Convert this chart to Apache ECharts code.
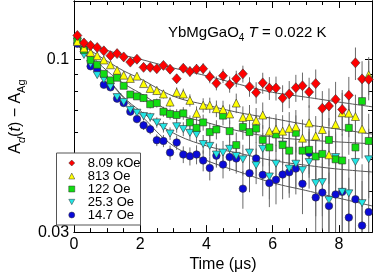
<!DOCTYPE html>
<html><head><meta charset="utf-8">
<script src="https://cdn.jsdelivr.net/npm/echarts@6/dist/echarts.min.js"></script>
<style>html,body{margin:0;padding:0;background:#fff}#c{width:374px;height:278px}</style>
</head><body><div id="c"></div>
<script>
const times = [0.1,0.3,0.5,0.7,0.9,1.1,1.3,1.5,1.7,1.9,2.1,2.3,2.5,2.7,2.9,3.1,3.3,3.5,3.7,3.9,4.1,4.3,4.5,4.7,4.9,5.1,5.3,5.5,5.7,5.9,6.1,6.3,6.5,6.7,6.9,7.1,7.3,7.5,7.7,7.9,8.1,8.3,8.5,8.7,8.9];
const red = [0.118,0.112,0.110,0.1085,0.106,0.1025,0.104,0.1016,0.098,0.100,0.0945,0.0945,0.0936,0.0958,0.0933,0.0873,0.0939,0.0918,0.0933,0.0936,0.0885,0.0846,0.0891,0.0839,0.0873,0.0903,0.0826,0.0793,0.0848,0.0818,0.0818,0.0763,0.0785,0.0820,0.0831,0.0796,0.0844,0.0711,0.0722,0.0756,0.0705,0.0778,0.0975,0.0872,0.0869];
const yellow = [0.1132,0.1082,0.1049,0.1025,0.0995,0.0962,0.0926,0.0895,0.0875,0.0889,0.0844,0.0816,0.0804,0.0785,0.0742,0.0794,0.0785,0.0751,0.0686,0.0726,0.0726,0.0709,0.0705,0.0683,0.0737,0.0667,0.0671,0.0653,0.0678,0.0606,0.0614,0.0606,0.0618,0.0625,0.0577,0.0642,0.0586,0.0613,0.0514,0.0635,0.0689,0.0687,0.0671,0.0615,0.0897];
const green = [0.1140,0.1065,0.0995,0.0962,0.0903,0.0863,0.0879,0.0831,0.0782,0.0772,0.0763,0.0731,0.0737,0.0694,0.0683,0.0678,0.0686,0.0644,0.0620,0.0644,0.0602,0.0613,0.0675,0.0606,0.0550,0.0624,0.0602,0.0617,0.0570,0.0541,0.0592,0.0550,0.0529,0.0599,0.0529,0.0532,0.0508,0.0517,0.0570,0.0498,0.0494,0.0620,0.0541,0.0747,0.0566];
const cyan = [0.1130,0.1030,0.0967,0.0895,0.0869,0.0826,0.0768,0.0742,0.0703,0.0689,0.0673,0.0668,0.0644,0.0624,0.0596,0.0627,0.0615,0.0599,0.0592,0.0554,0.0547,0.0515,0.0522,0.0536,0.0510,0.0498,0.0522,0.0478,0.0536,0.0442,0.0483,0.0552,0.0467,0.0483,0.0462,0.0489,0.0422,0.0425,0.0375,0.0506,0.0397,0.0393,0.0489,0.0367,0.0498];
const blue = [0.1114,0.1072,0.0952,0.0928,0.0837,0.0822,0.0760,0.0737,0.0694,0.0659,0.0631,0.0614,0.0569,0.0566,0.0522,0.0560,0.0515,0.0509,0.0515,0.0494,0.0469,0.0511,0.0480,0.0506,0.0501,0.0406,0.0452,0.0501,0.0447,0.0422,0.0432,0.0448,0.0455,0.0467,0.0420,0.0521,0.0382,0.0395,0.0360,0.0390,0.0397,0.0332,0.0377,0.0314,0.0345];
const errors = [0.0010,0.0011,0.0011,0.0012,0.0013,0.0014,0.0015,0.0016,0.0017,0.0018,0.0020,0.0021,0.0023,0.0024,0.0026,0.0028,0.0030,0.0032,0.0034,0.0036,0.0039,0.0041,0.0044,0.0047,0.0050,0.0053,0.0056,0.0059,0.0062,0.0065,0.0068,0.0071,0.0074,0.0077,0.0080,0.0083,0.0087,0.0090,0.0094,0.0098,0.0102,0.0106,0.0110,0.0114,0.0118];
const fitTimes = [0,0.5,1,1.5,2,3,4,5,6,7,8,9];
const fitRed = [0.1153,0.1099,0.1063,0.1028,0.1000,0.0941,0.0891,0.0839,0.0794,0.0768,0.0742,0.0718];
const fitYellow = [0.1145,0.1063,0.0987,0.0922,0.0873,0.0773,0.0727,0.0689,0.0662,0.0635,0.0614,0.0594];
const fitGreen = [0.1145,0.1028,0.0922,0.0844,0.0789,0.0689,0.0644,0.0606,0.0582,0.0570,0.0562,0.0555];
const fitCyan = [0.1137,0.0993,0.0879,0.0768,0.0698,0.0598,0.0547,0.0519,0.0494,0.0478,0.0465,0.0456];
const fitBlue = [0.1137,0.0993,0.0873,0.0763,0.0680,0.0547,0.0494,0.0456,0.0423,0.0401,0.0380,0.0360];
const seriesNames = ['8.09 kOe','813 Oe','122 Oe','25.3 Oe','14.7 Oe'];
const xMajorTicks = [0,2,4,6,8];
const xMinorTicks = [0.5,1,1.5,2.5,3,3.5,4.5,5,5.5,6.5,7,7.5,8.5];
const yMajorTicks = [0.03,0.1];
const yMinorTicks = [0.04,0.05,0.06,0.07,0.08,0.09];

const FONT = 'Liberation Sans, Arial, Helvetica, sans-serif';
const X_MIN = 0, X_MAX = 9, Y_MIN = 0.03, Y_MAX = 0.15;

function xAx(pos, ticks, len, main) {
  const a = {
    type: 'value', min: X_MIN, max: X_MAX, position: pos,
    axisLine: {show: true, onZero: false, lineStyle: {color: '#000', width: 1}},
    splitLine: {show: false},
    axisTick: {show: true, inside: true, length: len, customValues: ticks, lineStyle: {color: '#000', width: 1}},
    axisLabel: {show: false}
  };
  if (main) {
    a.axisLabel = {show: true, customValues: xMajorTicks, fontSize: 16, fontFamily: FONT, color: '#000', margin: 4};
    a.name = 'Time (\u03bcs)';
    a.nameLocation = 'middle';
    a.nameGap = 20;
    a.nameTextStyle = {fontSize: 16, fontFamily: FONT, color: '#000'};
  }
  return a;
}
function yAx(pos, ticks, len, main) {
  const a = {
    type: 'log', logBase: 10, min: Y_MIN, max: Y_MAX, position: pos,
    axisLine: {show: true, onZero: false, lineStyle: {color: '#000', width: 1}},
    splitLine: {show: false}, minorTick: {show: false},
    axisTick: {show: true, inside: true, length: len, customValues: ticks, lineStyle: {color: '#000', width: 1}},
    axisLabel: {show: false}
  };
  if (main) {
    a.axisLabel = {show: true, customValues: yMajorTicks, fontSize: 16, fontFamily: FONT, color: '#000', margin: 5,
      formatter: v => String(Math.round(v * 100) / 100)};
    a.name = '{a|A}{si|d}{a|(}{i|t}{a|) \u2212 A}{s|Ag}';
    a.nameLocation = 'middle';
    a.nameGap = 37;
    a.nameRotate = 90;
    a.nameTextStyle = {fontFamily: FONT, color: '#000', rich: {
      a: {fontSize: 16, fontFamily: FONT, color: '#000', lineHeight: 22},
      i: {fontSize: 16, fontFamily: FONT, color: '#000', fontStyle: 'italic', lineHeight: 22},
      s: {fontSize: 11, fontFamily: FONT, color: '#000', lineHeight: 11, verticalAlign: 'bottom'},
      si: {fontSize: 11, fontFamily: FONT, color: '#000', lineHeight: 11, verticalAlign: 'bottom', fontStyle: 'italic'}
    }};
  }
  return a;
}

const styles = [
  {color: '#ff0000', symbol: 'diamond', size: [9, 10], icon: 'diamond'},
  {color: '#ffff00', symbol: 'triangle', size: 8, icon: 'triangle'},
  {color: '#11dd11', symbol: 'rect', size: 7, icon: 'rect'},
  {color: '#22e5e5', symbol: 'path://M0,0L10,0L5,9Z', size: [8, 7], icon: 'path://M0,0L10,0L5,9Z'},
  {color: '#0a0ad8', symbol: 'circle', size: 7.5, icon: 'circle'}
];
const dataSets = [red, yellow, green, cyan, blue];
const fits = [fitRed, fitYellow, fitGreen, fitCyan, fitBlue];

const series = [];
dataSets.forEach((vals, k) => {
  series.push({
    type: 'custom', silent: true, z: 1, clip: true,
    encode: {x: 0, y: 1},
    data: times.map((t, i) => [t, vals[i], errors[i]]),
    renderItem: function (params, api) {
      const t = api.value(0), v = api.value(1), e = api.value(2);
      const lo = Math.max(v - e, Y_MIN), hi = Math.min(v + e, Y_MAX);
      const p1 = api.coord([t, lo]), p2 = api.coord([t, hi]);
      return {type: 'line', shape: {x1: p1[0], y1: p1[1], x2: p2[0], y2: p2[1]},
        style: {stroke: '#6a6a6a', lineWidth: 1}};
    }
  });
});
fits.forEach((f) => {
  series.push({
    type: 'line', silent: true, z: 2, smooth: 0.4, showSymbol: false, symbol: 'none',
    lineStyle: {color: '#555', width: 1},
    data: fitTimes.map((t, i) => [t, f[i]])
  });
});
for (let k = dataSets.length - 1; k >= 0; k--) {
  const st = styles[k];
  series.push({
    type: 'scatter', name: seriesNames[k], z: 3 + (dataSets.length - k),
    symbol: st.symbol, symbolSize: st.size,
    itemStyle: {color: st.color, borderColor: '#333', borderWidth: 0.6, opacity: 1},
    data: times.map((t, i) => [t, dataSets[k][i]])
  });
}

const chart = echarts.init(document.getElementById('c'), null, {renderer: 'canvas'});
chart.setOption({
  animation: false,
  backgroundColor: '#fff',
  grid: {left: 47, right: 2, top: 1, bottom: 39, containLabel: false},
  title: {
    text: '{n|YbMgGaO}{s|4}{n| }{i|T}{n| = 0.022 K}',
    left: 168, top: 23, padding: 0,
    textStyle: {fontWeight: 'normal', rich: {
      n: {fontSize: 15, fontFamily: FONT, color: '#000', fontWeight: 'normal', lineHeight: 20},
      i: {fontSize: 15, fontFamily: FONT, color: '#000', fontWeight: 'normal', fontStyle: 'italic', lineHeight: 20},
      s: {fontSize: 10, fontFamily: FONT, color: '#000', fontWeight: 'normal', lineHeight: 10, verticalAlign: 'bottom'}
    }}
  },
  legend: {
    orient: 'vertical', left: 56.5, top: 153,
    padding: [3.5, 0, 3.5, 12], itemGap: 0, itemWidth: 6, itemHeight: 6,
    borderColor: '#555', borderWidth: 1, backgroundColor: '#fff',
    selectedMode: false,
    itemStyle: {borderWidth: 0.5, borderColor: '#333'},
    textStyle: {fontSize: 13, fontFamily: FONT, color: '#000', lineHeight: 13, padding: [0, 0, 0, 8]},
    data: seriesNames.map((n, k) => ({name: n, icon: styles[k].icon}))
  },
  xAxis: [xAx('bottom', xMajorTicks, 7, true), xAx('top', xMajorTicks, 7, false),
          xAx('bottom', xMinorTicks, 4, false), xAx('top', xMinorTicks, 4, false)],
  yAxis: [yAx('left', yMajorTicks, 7, true), yAx('right', yMajorTicks, 7, false),
          yAx('left', yMinorTicks, 4, false), yAx('right', yMinorTicks, 4, false)],
  series: series
});
</script></body></html>
